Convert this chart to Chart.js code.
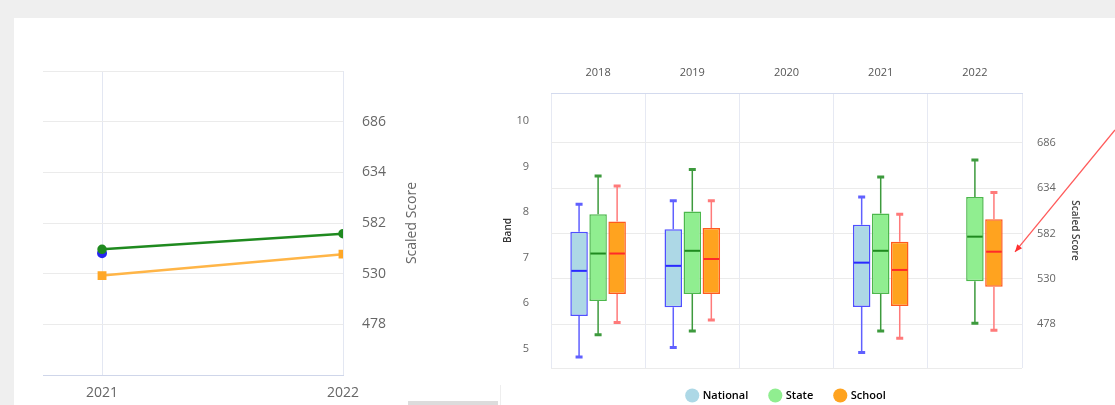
<!DOCTYPE html>
<html>
<head>
<meta charset="utf-8">
<script src="https://cdn.jsdelivr.net/npm/chart.js@4.4.0/dist/chart.umd.min.js"></script>
<style>
  body { margin: 0; background: #efefef; width: 1115px; height: 405px; overflow: hidden; position: relative; font-family: "Open Sans", sans-serif; }
  .card { position: absolute; left: 14px; top: 18px; right: 0; bottom: -20px; background: #fff; }
  .box { position: absolute; }
  .scroll { position: absolute; left: 408px; top: 401px; width: 90px; height: 4px; background: #dcdcdc; }
  .sep { position: absolute; left: 500px; top: 385px; width: 1px; height: 20px; background: #eee; }
</style>
</head>
<body>
<div class="card"></div>
<div class="box" style="left:14px;top:18px;width:420px;height:387px"><canvas id="trend"></canvas></div>
<div class="box" style="left:502px;top:40px;width:613px;height:371px"><canvas id="bands"></canvas></div>
<div class="scroll"></div>
<div class="sep"></div>
<script>
// trend chart (left)
const trendYears = [2021, 2022];
const trendState = [555, 571];
const trendSchool = [528, 550];
const trendNational = [551, null];
const scoreTicks = [426, 478, 530, 582, 634, 686, 738];

// band box plots (right)
const years = ['2018', '2019', '2020', '2021', '2022'];
const nationalMin = [4.82, 5.03, null, 4.92, null];
const nationalQ1 = [5.72, 5.91, null, 5.92, null];
const nationalMed = [6.71, 6.82, null, 6.89, null];
const nationalQ3 = [7.57, 7.62, null, 7.72, null];
const nationalMax = [8.17, 8.25, null, 8.33, null];

const stateMin = [5.31, 5.39, null, 5.39, 5.56];
const stateQ1 = [6.05, 6.20, null, 6.20, 6.48];
const stateMed = [7.09, 7.15, null, 7.15, 7.46];
const stateQ3 = [7.95, 8.01, null, 7.97, 8.33];
const stateMax = [8.79, 8.93, null, 8.77, 9.14];

const schoolMin = [5.58, 5.63, null, 5.23, 5.41];
const schoolQ1 = [6.20, 6.20, null, 5.94, 6.36];
const schoolMed = [7.09, 6.97, null, 6.73, 7.13];
const schoolQ3 = [7.79, 7.65, null, 7.35, 7.84];
const schoolMax = [8.57, 8.25, null, 7.95, 8.43];

const bandTicks = [5, 6, 7, 8, 9, 10];
const bandScoreTicks = [428, 478, 530, 582, 634, 686];

const toPoints = (vals) => trendYears.map((yr, i) => ({ x: yr, y: vals[i] }));

const leftTitle = {
  id: 'leftTitle',
  afterDraw(chart) {
    const ctx = chart.ctx;
    const a = chart.chartArea;
    ctx.save();
    ctx.translate(398, (a.top + a.bottom) / 2);
    ctx.rotate(-Math.PI / 2);
    ctx.fillStyle = '#666';
    ctx.font = '14px "Open Sans"';
    ctx.textAlign = 'center';
    ctx.textBaseline = 'middle';
    ctx.fillText('Scaled Score', 0, 0);
    ctx.restore();
  }
};

new Chart(document.getElementById('trend'), {
  type: 'line',
  data: {
    datasets: [
      {
        label: 'State', data: toPoints(trendState),
        borderColor: '#1f8a1f', backgroundColor: '#1f8a1f', borderWidth: 2.5,
        pointRadius: 3.5, pointStyle: 'circle', yAxisID: 'y'
      },
      {
        label: 'School', data: toPoints(trendSchool),
        borderColor: '#ffb547', backgroundColor: '#ffa726', pointBorderColor: '#ffa726', borderWidth: 2.5,
        pointRadius: 4.5, pointStyle: 'rect', yAxisID: 'y'
      },
      {
        label: 'National', data: toPoints(trendNational),
        borderColor: '#2626f0', backgroundColor: '#2626f0', borderWidth: 2,
        pointRadius: 4, pointStyle: 'circle', yAxisID: 'y'
      }
    ]
  },
  options: {
    responsive: true,
    maintainAspectRatio: false,
    animation: false,
    layout: { padding: { left: 29, top: 53, right: 0, bottom: 0 } },
    plugins: { legend: { display: false }, tooltip: { enabled: false } },
    scales: {
      x: {
        type: 'linear', min: 2020.755, max: 2022,
        afterBuildTicks: (s) => { s.ticks = trendYears.map(v => ({ value: v })); },
        afterFit: (s) => { s.height = 30; },
        grid: { color: '#e3e7f2', drawTicks: false },
        border: { color: '#cfd6ea' },
        ticks: { padding: 10, color: '#666', font: { size: 14, family: 'Open Sans' }, callback: (v) => String(v) }
      },
      y: {
        position: 'right', min: 426, max: 738,
        afterBuildTicks: (s) => { s.ticks = scoreTicks.map(v => ({ value: v })); },
        afterFit: (s) => { s.width = 91; },
        grid: { color: '#ebebeb', drawTicks: false },
        border: { display: false },
        ticks: {
          padding: 19, color: '#666', font: { size: 14, family: 'Open Sans' },
          callback: (v) => (v === 426 || v === 738) ? '' : String(v)
        }
      }
    }
  },
  plugins: [leftTitle]
});

// box plot helpers
const stats = [
  { min: nationalMin, q1: nationalQ1, med: nationalMed, q3: nationalQ3, max: nationalMax, whisker: '#6060ff', median: '#2a2aff' },
  { min: stateMin, q1: stateQ1, med: stateMed, q3: stateQ3, max: stateMax, whisker: '#3d9a3d', median: '#1f8a1f' },
  { min: schoolMin, q1: schoolQ1, med: schoolMed, q3: schoolQ3, max: schoolMax, whisker: '#ff7a7a', median: '#ff2a2a' }
];
const boxData = (s) => years.map((_, i) => s.q1[i] == null ? null : [s.q1[i], s.q3[i]]);

const whiskers = {
  id: 'whiskers',
  afterDatasetsDraw(chart) {
    const ctx = chart.ctx;
    const y = chart.scales.y;
    stats.forEach((s, di) => {
      const meta = chart.getDatasetMeta(di);
      meta.data.forEach((bar, i) => {
        if (s.med[i] == null) return;
        const x = bar.x, half = bar.width / 2;
        const pMin = y.getPixelForValue(s.min[i]);
        const pQ1 = y.getPixelForValue(s.q1[i]);
        const pMed = y.getPixelForValue(s.med[i]);
        const pQ3 = y.getPixelForValue(s.q3[i]);
        const pMax = y.getPixelForValue(s.max[i]);
        ctx.save();
        ctx.strokeStyle = s.whisker;
        ctx.lineWidth = 1.5;
        ctx.beginPath();
        ctx.moveTo(x, pQ3); ctx.lineTo(x, pMax);
        ctx.moveTo(x, pQ1); ctx.lineTo(x, pMin);
        ctx.stroke();
        ctx.lineWidth = 3;
        ctx.beginPath();
        ctx.moveTo(x - 3.5, pMax); ctx.lineTo(x + 3.5, pMax);
        ctx.moveTo(x - 3.5, pMin); ctx.lineTo(x + 3.5, pMin);
        ctx.stroke();
        ctx.strokeStyle = s.median;
        ctx.lineWidth = 2;
        ctx.beginPath();
        ctx.moveTo(x - half + 1, pMed); ctx.lineTo(x + half - 1, pMed);
        ctx.stroke();
        ctx.restore();
      });
    });
  }
};

const arrow = {
  id: 'arrow',
  afterDraw(chart) {
    const ctx = chart.ctx;
    const a = chart.chartArea;
    const tipX = a.right - 7, tipY = chart.scales.y2.getPixelForValue(561);
    const fromX = chart.width, fromY = a.top + 37;
    const ang = Math.atan2(tipY - fromY, tipX - fromX);
    ctx.save();
    ctx.strokeStyle = '#ff5a5a';
    ctx.fillStyle = '#ff3030';
    ctx.lineWidth = 1.3;
    ctx.beginPath();
    ctx.moveTo(fromX, fromY); ctx.lineTo(tipX, tipY);
    ctx.stroke();
    ctx.beginPath();
    ctx.moveTo(tipX, tipY);
    ctx.lineTo(tipX - 8 * Math.cos(ang - 0.4), tipY - 8 * Math.sin(ang - 0.4));
    ctx.lineTo(tipX - 8 * Math.cos(ang + 0.4), tipY - 8 * Math.sin(ang + 0.4));
    ctx.closePath();
    ctx.fill();
    ctx.restore();
  }
};

const small = { size: 11, family: 'Open Sans' };

new Chart(document.getElementById('bands'), {
  type: 'bar',
  data: {
    labels: years,
    datasets: [
      { label: 'National', data: boxData(stats[0]), backgroundColor: '#add8e6', borderColor: '#4f4fff', borderWidth: 1.5, borderSkipped: false },
      { label: 'State', data: boxData(stats[1]), backgroundColor: '#90ee90', borderColor: '#4cb84c', borderWidth: 1.5, borderSkipped: false },
      { label: 'School', data: boxData(stats[2]), backgroundColor: '#ffa31f', borderColor: '#ff5a1f', borderWidth: 1.5, borderSkipped: false }
    ]
  },
  options: {
    responsive: true,
    maintainAspectRatio: false,
    animation: false,
    layout: { padding: 0 },
    datasets: { bar: { categoryPercentage: 0.606, barPercentage: 0.92 } },
    plugins: {
      tooltip: { enabled: false },
      legend: {
        position: 'bottom',
        fullSize: false,
        labels: {
          usePointStyle: true, pointStyle: 'circle', boxWidth: 10, boxHeight: 10, padding: 22,
          color: '#333', font: { size: 11, family: 'Open Sans', weight: '600' },
          generateLabels: (chart) => chart.data.datasets.map((d, i) => ({
            text: d.label, fillStyle: d.backgroundColor, strokeStyle: d.backgroundColor,
            lineWidth: 0, pointStyle: 'circle', datasetIndex: i, hidden: false
          }))
        }
      }
    },
    scales: {
      x: {
        position: 'top',
        afterFit: (s) => { s.height = 53; },
        grid: { color: '#e6e9f3', drawTicks: false, offset: true },
        border: { color: '#d3daee' },
        ticks: { padding: 14, color: '#555', font: small }
      },
      y: {
        position: 'left', min: 4.58, max: 10.61,
        afterBuildTicks: (s) => { s.ticks = bandTicks.map(v => ({ value: v })); },
        afterFit: (s) => { s.width = 49; },
        grid: { display: false },
        border: { display: false },
        title: { display: true, text: 'Band', color: '#333', font: { size: 10, family: 'Open Sans', weight: '600' }, padding: { top: 0, bottom: 0 } },
        ticks: { padding: 14, color: '#666', font: small }
      },
      y2: {
        position: 'right', min: 428, max: 743,
        afterBuildTicks: (s) => { s.ticks = bandScoreTicks.map(v => ({ value: v })); },
        afterFit: (s) => { s.width = 93; },
        grid: { color: '#ebebeb', drawTicks: false },
        border: { display: false },
        title: { display: true, text: 'Scaled Score', color: '#444', font: { size: 10, family: 'Open Sans', weight: '600' }, padding: { top: 34, bottom: 0 } },
        ticks: {
          padding: 15, color: '#666', font: small,
          callback: (v) => v === 428 ? '' : String(v)
        }
      }
    }
  },
  plugins: [whiskers, arrow]
});
</script>
</body>
</html>
